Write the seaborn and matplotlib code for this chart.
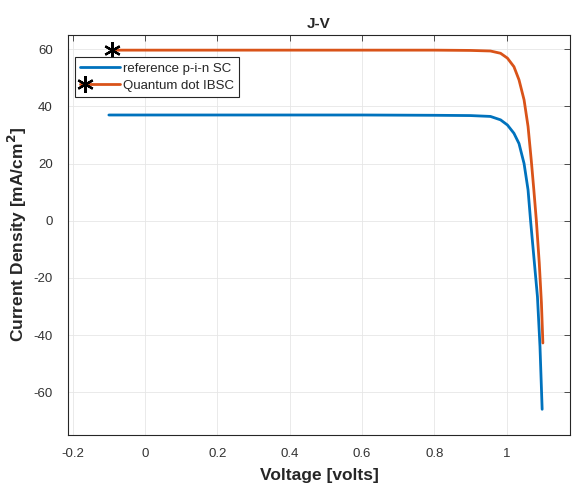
import matplotlib
matplotlib.use("Agg")
import matplotlib.pyplot as plt
from matplotlib.lines import Line2D
from matplotlib.legend_handler import HandlerLine2DCompound
import seaborn as sns
import pandas as pd

# Reference p-i-n solar cell
v_ref = [-0.10, 0.00, 0.20, 0.40, 0.60, 0.80, 0.90, 0.955, 0.983, 1.002, 1.020,
         1.034, 1.048, 1.059, 1.066, 1.075, 1.085, 1.092, 1.098]
j_ref = [37.0, 37.0, 37.0, 37.0, 37.0, 36.9, 36.8, 36.5, 35.3, 33.5, 30.6,
         27.0, 20.0, 10.8, 0.0, -12.6, -26.6, -44.0, -66.0]

# Quantum dot IBSC
v_qd = [-0.09, 0.00, 0.20, 0.40, 0.60, 0.80, 0.90, 0.955, 0.983, 1.002, 1.020,
        1.034, 1.048, 1.059, 1.068, 1.075, 1.082, 1.090, 1.096, 1.100]
j_qd = [59.7, 59.7, 59.7, 59.7, 59.7, 59.7, 59.6, 59.4, 58.6, 56.9, 53.9,
        49.3, 42.3, 33.0, 21.0, 10.8, 0.0, -14.8, -28.8, -42.8]

labels = ["reference p-i-n SC", "Quantum dot IBSC"]
colors = ["#0072BD", "#D95319"]
x_ticks = [-0.2, 0, 0.2, 0.4, 0.6, 0.8, 1]
x_ticklabels = ["-0.2", "0", "0.2", "0.4", "0.6", "0.8", "1"]
y_ticks = [-60, -40, -20, 0, 20, 40, 60]

sns.set_theme(style="whitegrid")
plt.rcParams["font.family"] = ["Liberation Sans", "DejaVu Sans"]
plt.rcParams["axes.unicode_minus"] = False


class LeftMarkerHandler(HandlerLine2DCompound):
    def get_xdata(self, legend, xdescent, ydescent, width, height, fontsize):
        xdata = [-xdescent, -xdescent + width]
        return xdata, [-xdescent + 0.12 * width]


fig = plt.figure(figsize=(5.72, 4.86), dpi=100)
ax = fig.add_axes([68 / 572, 51 / 486, 502 / 572, 400 / 486])
ax.set_facecolor("white")

df_ref = pd.DataFrame({"V": v_ref, "J": j_ref})
df_qd = pd.DataFrame({"V": v_qd, "J": j_qd})

sns.lineplot(data=df_ref, x="V", y="J", ax=ax, color=colors[0], lw=2.0,
             sort=False, estimator=None, legend=False)
sns.lineplot(data=df_qd, x="V", y="J", ax=ax, color=colors[1], lw=2.0,
             sort=False, estimator=None, legend=False,
             marker=(6, 2, 0), markevery=[0], markersize=12,
             markeredgecolor="black", markerfacecolor="black", markeredgewidth=1.6)

ax.set_xlim(-0.213, 1.175)
ax.set_ylim(-75, 65)
ax.set_xticks(x_ticks)
ax.set_xticklabels(x_ticklabels)
ax.set_yticks(y_ticks)

ax.grid(True, color="#e6e6e6", lw=0.6)
for s in ax.spines.values():
    s.set_visible(True)
    s.set_color("#262626")
    s.set_linewidth(0.8)
ax.tick_params(direction="in", length=4, width=0.6, top=True, right=True,
               labelsize=9.5, colors="#333333")
ax.tick_params(axis="x", pad=9)
ax.tick_params(axis="y", pad=11)

ax.set_title("J-V", fontsize=11, fontweight="bold", pad=5)
ax.set_xlabel("Voltage [volts]", fontsize=12.5, fontweight="bold", labelpad=6)
ax.set_ylabel("Current Density [mA/cm$^\\mathbf{2}$]", fontsize=12.5,
              fontweight="bold", labelpad=3)

h1 = Line2D([0], [0], color=colors[0], lw=2.0)
h2 = Line2D([0], [0], color=colors[1], lw=2.0, marker=(6, 2, 0),
            markersize=12, markeredgecolor="black",
            markerfacecolor="black", markeredgewidth=1.6)
leg = ax.legend([h1, h2], labels, loc="upper left",
                bbox_to_anchor=(0.014, 0.945), borderaxespad=0,
                fontsize=9.5, frameon=True, fancybox=False, numpoints=1,
                handlelength=3.0, handletextpad=0.2, borderpad=0.4,
                labelspacing=0.4, handler_map={h2: LeftMarkerHandler()})
leg.get_frame().set_edgecolor("#262626")
leg.get_frame().set_linewidth(0.8)
leg.get_frame().set_alpha(1)

fig.savefig("out.png", dpi=100)
